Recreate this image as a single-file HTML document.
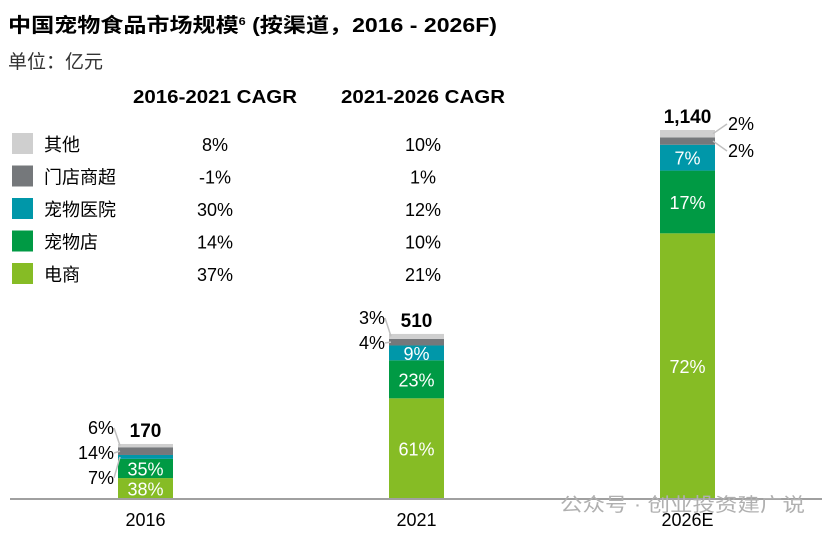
<!DOCTYPE html>
<html><head><meta charset="utf-8"><style>
body{margin:0;width:832px;height:536px;background:#fff;overflow:hidden;font-family:"Liberation Sans","Noto Sans CJK SC",sans-serif;}
svg text{font-family:"Liberation Sans","Noto Sans CJK SC",sans-serif;}
</style></head><body>
<svg id="chart" width="832" height="536">
<text x="8" y="32" font-size="20" font-weight="bold" fill="#000" textLength="489" lengthAdjust="spacingAndGlyphs">中国宠物食品市场规模<tspan font-size="11" dy="-7">6</tspan><tspan dy="7"> (按渠道，2016 - 2026F)</tspan></text>
<text x="8" y="68" font-size="19" fill="#333">单位：亿元</text>
<text x="133" y="103" font-size="18" font-weight="bold" textLength="164" lengthAdjust="spacingAndGlyphs">2016-2021 CAGR</text>
<text x="341" y="103" font-size="18" font-weight="bold" textLength="164" lengthAdjust="spacingAndGlyphs">2021-2026 CAGR</text>
<g id="legend"></g>
<g id="bars"></g>
<line x1="10" y1="499" x2="822" y2="499" stroke="#a0a0a0" stroke-width="2"/>
<text x="560" y="511" font-size="19" fill="#b0b0b0" textLength="245" lengthAdjust="spacingAndGlyphs">公众号 · 创业投资建广说</text>
</svg>
<script>
const categories=["2016","2021","2026E"];
const totals=[170,510,1140];
const totalLabels=["170","510","1,140"];
const channels=["电商","宠物店","宠物医院","门店商超","其他"];
const colors=["#86bc25","#009a44","#0097a9","#75787b","#cfcfcf"];
const shares=[[38,35,7,14,6],[61,23,9,4,3],[72,17,7,2,2]];
const cagr1=["37%","14%","30%","-1%","8%"];
const cagr2=["21%","10%","12%","1%","10%"];
const NS="http://www.w3.org/2000/svg";
const base=499,scale=369/1140;
const xs=[118,389,660],bw=55;
function y(v){return base-v*scale;}
function mk(t,a,parent){const e=document.createElementNS(NS,t);for(const k in a)e.setAttribute(k,a[k]);(parent||document.getElementById('bars')).appendChild(e);return e;}
const lg=document.getElementById('legend');
for(let i=0;i<5;i++){
 const ci=4-i, ry=133+i*32.5;
 const r=mk('rect',{x:12,y:ry,width:21,height:21,fill:colors[ci]},lg);
 
 
 const t=mk('text',{x:44,y:ry+18,'font-size':18},lg);t.textContent=channels[ci];
 
 
 const a=mk('text',{x:215,y:ry+18,'font-size':18,'text-anchor':'middle'},lg);a.textContent=cagr1[ci];
 
 
 const b=mk('text',{x:423,y:ry+18,'font-size':18,'text-anchor':'middle'},lg);b.textContent=cagr2[ci];
 
 
}
for(let c=0;c<3;c++){
 let cum=0;const x=xs[c],cx=x+bw/2;
 const segs=[];
 for(let s=0;s<5;s++){
  const v=totals[c]*shares[c][s]/100;
  const y0=y(cum),y1=y(cum+v);
  const r=mk('rect',{x:x,y:y1,width:bw,height:y0-y1,fill:colors[s]});
  
  
  segs.push([y0,y1]);cum+=v;
 }
 for(let s=0;s<5;s++){
  const [y0,y1]=segs[s],h=y0-y1;
  if(h>=14){const t=mk('text',{x:cx,y:(y0+y1)/2+7,'font-size':18,'text-anchor':'middle',fill:'#fff'});t.textContent=shares[c][s]+'%';
   
   }
 }
 const outs=[];for(let s=0;s<5;s++){if(segs[s][0]-segs[s][1]<14)outs.push(s);}
 const right=(c===2);
 outs.slice().reverse().forEach((s,k)=>{
  const my=(segs[s][0]+segs[s][1])/2;
  const ly=right?y(totals[c])-2+k*27:y(totals[c])-12+k*25;
  let lx;
  if(right){lx=x+bw+6;}else{lx=x-4;}
  mk('line',{x1:right?x+bw-2:x+2,y1:my,x2:right?lx+6:lx,y2:ly-4,stroke:'#c0c0c0','stroke-width':1.5});
  const t=mk('text',{x:right?lx+7:lx,y:ly+2,'font-size':18,'text-anchor':right?'start':'end'});t.textContent=shares[c][s]+'%';
  
  
 });
 const tl=mk('text',{x:cx,y:y(totals[c])-7,'font-size':19,'font-weight':'bold','text-anchor':'middle'});tl.textContent=totalLabels[c];
 
 
 const xl=mk('text',{x:cx,y:526,'font-size':18,'text-anchor':'middle'});xl.textContent=categories[c];
 
 
}
</script>
</body></html>
